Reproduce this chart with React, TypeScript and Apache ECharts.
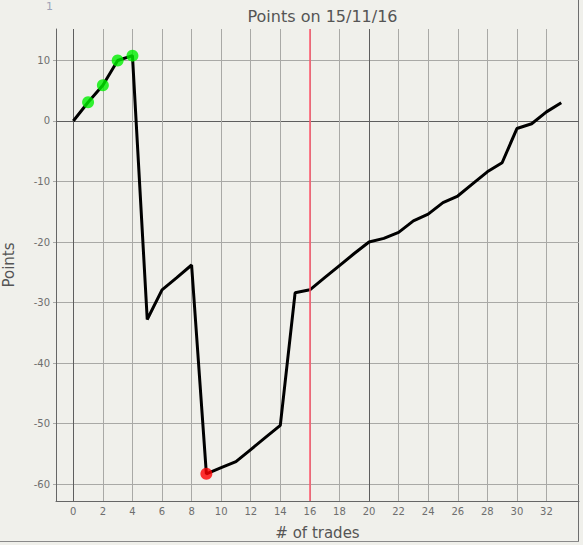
import React, { useEffect, useRef } from "react";
import * as echarts from "echarts";

const trades = [0, 1, 2, 3, 4, 5, 6, 7, 8, 9, 10, 11, 12, 13, 14, 15, 16, 17, 18, 19, 20, 21, 22, 23, 24, 25, 26, 27, 28, 29, 30, 31, 32, 33];
const points = [0, 3.1, 5.9, 10.0, 10.8, -32.8, -27.9, -25.9, -23.8, -58.3, -57.3, -56.3, -54.3, -52.3, -50.3, -28.4, -27.9, -25.9, -23.9, -21.9, -20.0, -19.4, -18.4, -16.5, -15.4, -13.5, -12.4, -10.4, -8.4, -6.9, -1.25, -0.45, 1.5, 3.0];
const greenIdx = [1, 2, 3, 4];
const redIdx = [9];
const markerTrade = 16;
const xTicks = [0, 2, 4, 6, 8, 10, 12, 14, 16, 18, 20, 22, 24, 26, 28, 30, 32];
const yTicks = [-60, -50, -40, -30, -20, -10, 0, 10];
const titleText = "Points on 15/11/16";

const BG = "#f0f0eb";
const GRID = "#a9a9a6";
const GRID_DARK = "#5e5e5e";
const LABEL = "#6e6e6e";
const FONT = "DejaVu Sans";

export default function App() {
  const ref = useRef<HTMLDivElement>(null);
  useEffect(() => {
    if (!ref.current) return;
    const chart = echarts.init(ref.current, null, { renderer: "svg" });
    const xGridColors = xTicks.map((v) => (v % 20 === 0 ? GRID_DARK : GRID));
    const yGridColors = yTicks.map((v) => (v === 0 ? GRID_DARK : GRID));
    const lineData = trades.map((t, i) => [t, points[i]]);
    chart.setOption({
      animation: false,
      backgroundColor: BG,
      title: {
        text: titleText,
        left: 317.5,
        top: 3,
        textAlign: "center",
        textStyle: { fontFamily: FONT, fontSize: 16, fontWeight: "normal", color: "#555555" },
      },
      grid: { left: 56, top: 29, right: 4, bottom: 44, containLabel: false, outerBoundsMode: "none" },
      xAxis: {
        type: "value",
        min: -1.17,
        max: 34.2,
        name: "# of trades",
        nameLocation: "middle",
        nameGap: 24,
        nameTextStyle: { fontFamily: FONT, fontSize: 15, color: "#555555" },
        axisLine: { show: true, onZero: false, lineStyle: { color: "#666666", width: 1 } },
        axisTick: { show: false, customValues: xTicks },
        axisLabel: { customValues: xTicks, color: LABEL, fontFamily: FONT, fontSize: 10, margin: 5 },
        splitLine: { show: true, lineStyle: { color: xGridColors, width: 1 } },
      },
      yAxis: {
        type: "value",
        min: -62.8,
        max: 15.2,
        name: "Points",
        nameLocation: "middle",
        nameGap: 40,
        nameTextStyle: { fontFamily: FONT, fontSize: 15, color: "#555555" },
        axisLine: { show: true, onZero: false, lineStyle: { color: "#666666", width: 1 } },
        axisTick: { show: true, length: 3, customValues: yTicks, lineStyle: { color: GRID } },
        axisLabel: { customValues: yTicks, color: LABEL, fontFamily: FONT, fontSize: 10, margin: 6 },
        splitLine: { show: true, lineStyle: { color: yGridColors, width: 1 } },
      },
      series: [
        {
          type: "line",
          data: lineData,
          showSymbol: false,
          symbol: "none",
          lineStyle: { color: "#000000", width: 3 },
          z: 3,
          markLine: {
            silent: true,
            symbol: "none",
            label: { show: false },
            lineStyle: { color: "#ff5468", width: 1.5, type: "solid" },
            data: [{ xAxis: markerTrade }],
          },
        },
        {
          type: "scatter",
          data: greenIdx.map((i) => [trades[i], points[i]]),
          symbolSize: 12,
          itemStyle: { color: "#00f000" },
          z: 4,
        },
        {
          type: "scatter",
          data: redIdx.map((i) => [trades[i], points[i]]),
          symbolSize: 12,
          itemStyle: { color: "#ff0000" },
          z: 4,
        },
      ],
      graphic: [
        {
          type: "text",
          left: 46,
          top: 1,
          style: { text: "1", fill: "#9ea3b8", font: "11px DejaVu Sans" },
        },
        {
          type: "line",
          shape: { x1: 578.5, y1: 0, x2: 578.5, y2: 541 },
          style: { stroke: "#6e6e6e", lineWidth: 1 },
        },
        {
          type: "line",
          shape: { x1: 0, y1: 541.5, x2: 579, y2: 541.5 },
          style: { stroke: "#8a8a8a", lineWidth: 1 },
        },
      ],
    });
    return () => chart.dispose();
  }, []);
  return (
    <div
      ref={ref}
      style={{ position: "fixed", left: 0, top: 0, width: 583, height: 545 }}
    />
  );
}
